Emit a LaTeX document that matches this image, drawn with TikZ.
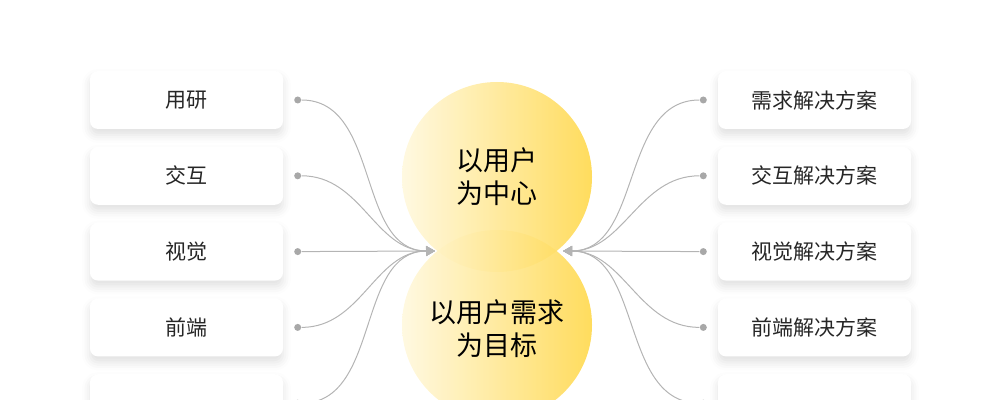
\documentclass[tikz,border=0pt]{standalone}
\usepackage{fontspec}
\newfontfamily\cjk{Noto Sans CJK SC}
\usetikzlibrary{arrows.meta, positioning, shadows.blur}
\definecolor{linkgray}{HTML}{B4B4B4}
\definecolor{portgray}{HTML}{A8A8A8}
\definecolor{textdark}{HTML}{262626}
\definecolor{sunlight}{HTML}{FFF8DE}
\definecolor{sundark}{HTML}{FFD84C}

\begin{document}
\begin{tikzpicture}[
    x=0.5pt, y=-0.5pt,
    node distance=8.5pt,
    role/.style={
        fill=white, rectangle, rounded corners=4pt, align=center,
        minimum width=96.5pt, minimum height=29pt, inner sep=0pt,
        text=textdark, font=\cjk\fontsize{10.5}{12}\selectfont,
        blur shadow={shadow xshift=0pt, shadow yshift=-3pt,
            shadow blur radius=4pt, shadow opacity=12}
    },
    port/.style={circle, fill=portgray, inner sep=0pt, minimum size=3.5pt},
    goal/.style={
        circle, minimum size=95pt, inner sep=0pt,
        left color=sunlight, right color=sundark, fill opacity=0.9
    },
    goaltext/.style={
        align=center, inner sep=0pt, text=black,
        font=\cjk\fontsize{13.5}{16.5}\selectfont
    },
    link/.style={draw=linkgray, line width=0.5pt,
        -{Triangle[length=4.5pt, width=5pt, fill=linkgray]}}
]
    \useasboundingbox (0,0) rectangle (1000,400);
    \clip (0,0) rectangle (1000,400);

    % left column
    \node[role] (research) at (186.5,100) {用研};
    \node[role, below=of research] (interact) {交互};
    \node[role, below=of interact] (visual) {视觉};
    \node[role, below=of visual] (front) {前端};
    \node[role, below=of front] (more) {};

    % right column
    \node[role] (needplan) at (814.5,100) {需求解决方案};
    \node[role, below=of needplan] (interplan) {交互解决方案};
    \node[role, below=of interplan] (visualplan) {视觉解决方案};
    \node[role, below=of visualplan] (frontplan) {前端解决方案};
    \node[role, below=of frontplan] (moreplan) {};

    % centre
    \node[goal] (target) at (497,325) {};
    \node[goal] (user) at (497,177) {};
    \node[goaltext] (usertext) at (497,177) {以用户\\为中心};
    \node[goaltext] (targettext) at (497,329) {以用户需求\\为目标};

    \node[port, right=5.2pt of research] (researchport) {};
    \node[port, right=5.2pt of interact] (interactport) {};
    \node[port, right=5.2pt of visual] (visualport) {};
    \node[port, right=5.2pt of front] (frontport) {};
    \node[port, right=5.2pt of more] (moreport) {};
    \node[port, left=5.2pt of needplan] (needplanport) {};
    \node[port, left=5.2pt of interplan] (interplanport) {};
    \node[port, left=5.2pt of visualplan] (visualplanport) {};
    \node[port, left=5.2pt of frontplan] (frontplanport) {};
    \node[port, left=5.2pt of moreplan] (moreplanport) {};

    \coordinate (tipleft) at (435,251);
    \coordinate (tipright) at (563,251);

    \draw[link] (researchport) to[out=0, in=180] (tipleft);
    \draw[link] (interactport) to[out=0, in=180] (tipleft);
    \draw[link] (visualport) -- (tipleft);
    \draw[link] (frontport) to[out=0, in=180] (tipleft);
    \draw[link] (moreport) to[out=0, in=180] (tipleft);
    \draw[link] (needplanport) to[out=180, in=0] (tipright);
    \draw[link] (interplanport) to[out=180, in=0] (tipright);
    \draw[link] (visualplanport) -- (tipright);
    \draw[link] (frontplanport) to[out=180, in=0] (tipright);
    \draw[link] (moreplanport) to[out=180, in=0] (tipright);
\end{tikzpicture}
\end{document}
